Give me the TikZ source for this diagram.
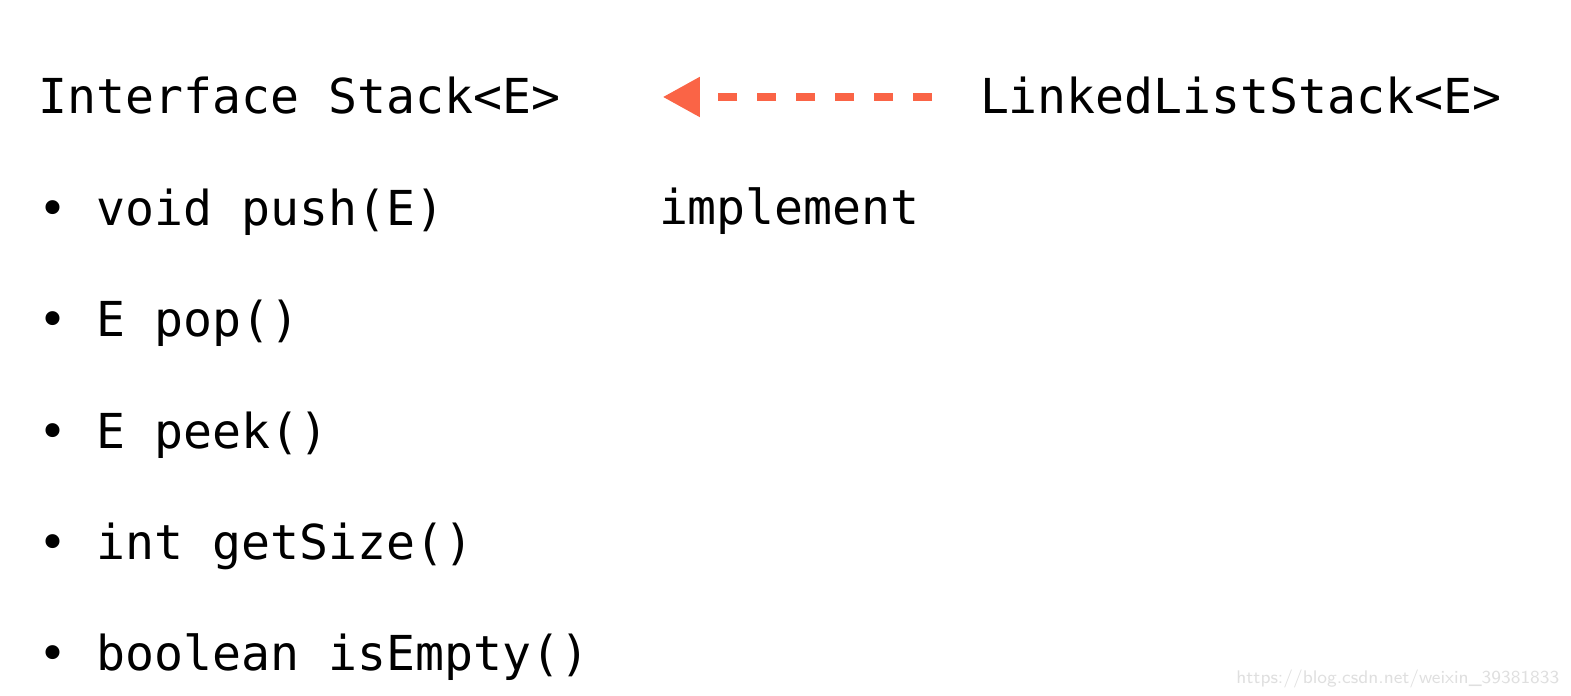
\documentclass[tikz,border=0pt]{standalone}
\usepackage{fontspec}
\newfontfamily\codefont{DejaVu Sans Mono}
\usepackage{tikz}
\usetikzlibrary{arrows.meta}
\usetikzlibrary{positioning}
\definecolor{myorange}{RGB}{250,100,70}
\tikzset{
  code/.style={inner sep=0,outer sep=0,anchor=base west,font=\codefont\fontsize{13.7pt}{16pt}\selectfont},
  connect dashed/.style={-{Triangle[length=3.7mm,width=3.8mm]},line width=0.8mm,myorange,dash pattern=on 1.9mm off 2mm},
  mark url/.style={inner sep=0,anchor=base east,gray!25,font=\sffamily\fontsize{5.2pt}{6pt}\selectfont}
}

\begin{document}
\begin{tikzpicture}[x=0.1mm,y=-0.1mm]
\useasboundingbox (0,0) rectangle (1571,696);
%
% left column: the interface and its methods
\node[code] (iface) at (39,114) {Interface Stack<E>};
\foreach \M [count=\Y] in {void push(E),E pop(),E peek(),int getSize(),boolean isEmpty()}
{\node[code] (m\Y) at (39,{114+\Y*111.4}) {\textbullet\ \M};}
%
% right: the class that implements it
\node[code] (lls) at (980,114) {LinkedListStack<E>};
\node[code] (impl) at (659,225) {implement};
\draw[connect dashed,shorten <=4.8mm,shorten >=10.2mm] (lls.west|-0,97) -- (iface.east|-0,97);
%
\node[mark url] (url) at (1560,684) {https://blog.csdn.net/weixin\_39381833};
\end{tikzpicture}
\end{document}
